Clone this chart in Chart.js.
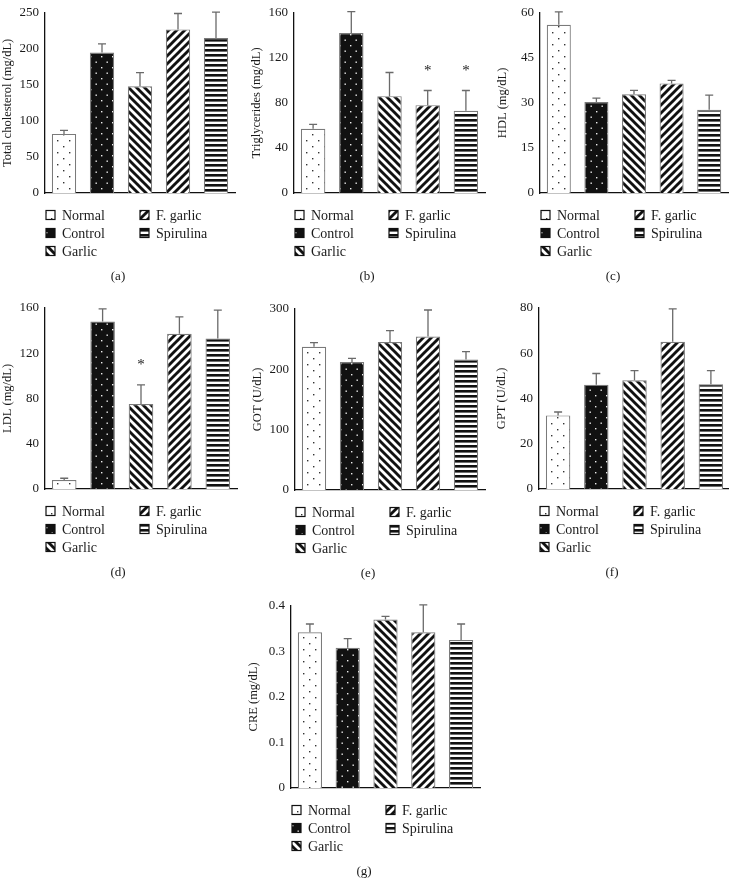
<!DOCTYPE html>
<html lang="en">
<head>
<meta charset="utf-8">
<title>Serum lipid and enzyme levels</title>
<script src="https://cdn.jsdelivr.net/npm/chart.js"></script>
<style>
  body { margin: 0; background: #fff; width: 729px; height: 890px; position: relative; overflow: hidden; }
  canvas { position: absolute; }
</style>
</head>
<body>
<script>
  // groups, shared by every panel
  const groups = ["Normal", "Control", "Garlic", "F. garlic", "Spirulina"];

  // (a) total cholesterol
  const tcMean = [82, 195, 148, 227, 215];
  const tcSd = [5, 12, 19, 22, 36];
  // (b) triglycerides
  const tgMean = [57, 142, 86, 78, 73];
  const tgSd = [4, 19, 21, 13, 18];
  const tgSig = ["", "", "", "*", "*"];
  // (c) HDL
  const hdlMean = [56, 30.3, 32.9, 36.5, 27.7];
  const hdlSd = [4.3, 1.3, 1.3, 1, 4.9];
  // (d) LDL
  const ldlMean = [8, 148, 75, 137, 133];
  const ldlSd = [1.5, 11, 17, 15, 25];
  const ldlSig = ["", "", "*", "", ""];
  // (e) GOT
  const gotMean = [237, 212, 245, 254, 216];
  const gotSd = [7, 6, 19, 44, 13];
  // (f) GPT
  const gptMean = [32.5, 46, 48, 65, 46.3];
  const gptSd = [1.5, 5, 4.3, 14.5, 6];
  // (g) creatinine
  const creMean = [0.342, 0.308, 0.37, 0.342, 0.325];
  const creSd = [0.018, 0.02, 0.007, 0.06, 0.035];

  const noSig = ["", "", "", "", ""];

  const FONT = "'Liberation Serif', 'DejaVu Serif', serif";
  const INK = "#1a1a1a";

  const panels = [
    { id: "a", title: "Total cholesterol (mg/dL)", mean: tcMean, sd: tcSd, sig: noSig, max: 250, step: 50 },
    { id: "b", title: "Triglycerides (mg/dL)", mean: tgMean, sd: tgSd, sig: tgSig, max: 160, step: 40 },
    { id: "c", title: "HDL (mg/dL)", mean: hdlMean, sd: hdlSd, sig: noSig, max: 60, step: 15 },
    { id: "d", title: "LDL (mg/dL)", mean: ldlMean, sd: ldlSd, sig: ldlSig, max: 160, step: 40 },
    { id: "e", title: "GOT (U/dL)", mean: gotMean, sd: gotSd, sig: noSig, max: 300, step: 100 },
    { id: "f", title: "GPT (U/dL)", mean: gptMean, sd: gptSd, sig: noSig, max: 80, step: 20 },
    { id: "g", title: "CRE (mg/dL)", mean: creMean, sd: creSd, sig: noSig, max: 0.4, step: 0.1 }
  ];

  // where each plot area sits on the page: axis x, top, right end, zero line
  const layout = {
    a: [45, 7, 235, 193],
    b: [294, 7, 485, 193],
    c: [540, 7, 728, 193],
    d: [45, 302, 237, 489],
    e: [295, 303, 485, 490],
    f: [539, 302, 730, 489],
    g: [291, 600, 480, 788]
  };

  function makePattern(kind) {
    const c = document.createElement("canvas");
    const g = c.getContext("2d");
    if (kind == "dotsLight") {
      c.width = 12; c.height = 12;
      g.fillStyle = "#fff"; g.fillRect(0, 0, 12, 12);
      g.fillStyle = "#333";
      g.fillRect(3, 3, 1.4, 1.4);
      g.fillRect(9, 9, 1.4, 1.4);
    } else if (kind == "dotsDark") {
      c.width = 11; c.height = 11;
      g.fillStyle = "#111"; g.fillRect(0, 0, 11, 11);
      g.fillStyle = "#eee";
      g.fillRect(2, 2, 1.4, 1.4);
      g.fillRect(7.5, 7.5, 1.4, 1.4);
    } else if (kind == "back" || kind == "fwd") {
      c.width = 8; c.height = 8;
      g.fillStyle = "#fff"; g.fillRect(0, 0, 8, 8);
      g.strokeStyle = "#111"; g.lineWidth = 2.9;
      for (let k = -1; k <= 1; k++) {
        g.beginPath();
        if (kind == "back") { g.moveTo(k * 8 - 1, -1); g.lineTo(k * 8 + 9, 9); }
        else { g.moveTo(k * 8 - 1, 9); g.lineTo(k * 8 + 9, -1); }
        g.stroke();
      }
    } else {
      c.width = 4; c.height = 5;
      g.fillStyle = "#fff"; g.fillRect(0, 0, 4, 5);
      g.fillStyle = "#111"; g.fillRect(0, 0, 4, 2.6);
    }
    return g.createPattern(c, "repeat");
  }

  const fills = [makePattern("dotsLight"), makePattern("dotsDark"), makePattern("back"), makePattern("fwd"), makePattern("horiz")];

  function extras(p) {
    return {
      id: "extras" + p.id,
      afterDatasetsDraw(chart) {
        const ctx = chart.ctx;
        const y = chart.scales.y;
        const bars = chart.getDatasetMeta(0).data;
        ctx.save();
        ctx.strokeStyle = "#6a6a6a";
        ctx.lineWidth = 1.3;
        bars.forEach((b, i) => {
          const top = y.getPixelForValue(p.mean[i] + p.sd[i]);
          ctx.beginPath();
          ctx.moveTo(b.x, b.y);
          ctx.lineTo(b.x, top);
          ctx.moveTo(b.x - 4, top);
          ctx.lineTo(b.x + 4, top);
          ctx.stroke();
          if (p.sig[i]) {
            ctx.fillStyle = INK;
            ctx.font = "15px " + FONT;
            ctx.textAlign = "center";
            ctx.textBaseline = "alphabetic";
            ctx.fillText(p.sig[i], b.x, top - 16);
          }
        });
        ctx.restore();
      },
      afterDraw(chart) {
        const ctx = chart.ctx;
        const area = chart.chartArea;
        ctx.save();
        ctx.font = "14px " + FONT;
        ctx.textBaseline = "middle";
        ctx.textAlign = "left";
        groups.forEach((name, i) => {
          const col = i < 3 ? 0 : 1;
          const row = i < 3 ? i : i - 3;
          const bx = area.left + 1 + col * 94;
          const by = area.bottom + 22 + row * 18;
          ctx.fillStyle = fills[i];
          ctx.fillRect(bx, by - 4.5, 9, 9);
          ctx.strokeStyle = "#111";
          ctx.lineWidth = 1.2;
          ctx.strokeRect(bx, by - 4.5, 9, 9);
          ctx.fillStyle = INK;
          ctx.fillText(name, bx + 16, by + 1);
        });
        ctx.font = "13px " + FONT;
        ctx.textAlign = "center";
        ctx.fillText("(" + p.id + ")", area.left + 73, area.bottom + 84);
        ctx.restore();
      }
    };
  }

  panels.forEach(p => {
    const [ax, top, right, bottom] = layout[p.id];
    const cv = document.createElement("canvas");
    cv.width = right - ax + 47;
    cv.height = bottom - top + 8 + 95;
    cv.style.left = (ax - 45) + "px";
    cv.style.top = (top - 8) + "px";
    document.body.appendChild(cv);

    new Chart(cv, {
      type: "bar",
      data: {
        labels: groups,
        datasets: [{
          data: p.mean,
          backgroundColor: fills,
          borderColor: "#7a7a7a",
          borderWidth: 1.2,
          barPercentage: 0.64,
          categoryPercentage: 1
        }]
      },
      options: {
        responsive: false,
        animation: false,
        devicePixelRatio: 1,
        layout: { padding: { top: 8, left: 0, right: 2, bottom: 0 } },
        plugins: { legend: { display: false }, tooltip: { enabled: false } },
        scales: {
          x: {
            grid: { display: false, drawTicks: false },
            border: { display: true, color: "#111", width: 1.3 },
            ticks: { display: false },
            afterFit: s => { s.height = 95; }
          },
          y: {
            min: 0,
            max: p.max,
            grid: { display: false, drawTicks: false },
            border: { display: true, color: "#111", width: 1.3 },
            ticks: { stepSize: p.step, padding: 6, color: INK, font: { family: FONT, size: 13 } },
            title: { display: true, text: p.title, color: INK, font: { family: FONT, size: 12.5 }, padding: { top: 0, bottom: 0 } },
            afterFit: s => { s.width = 45; }
          }
        }
      },
      plugins: [extras(p)]
    });
  });
</script>
</body>
</html>
